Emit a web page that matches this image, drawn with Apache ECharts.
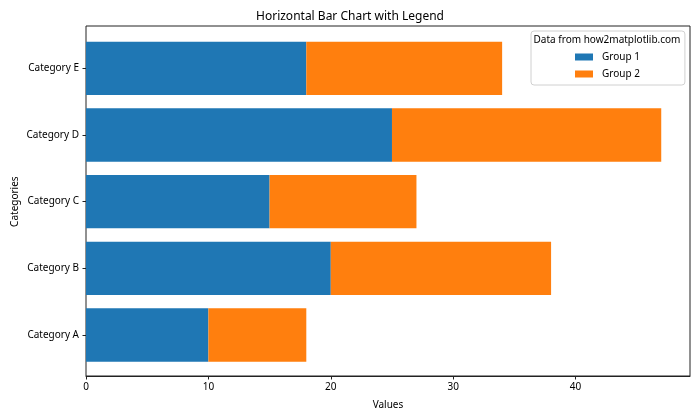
<!DOCTYPE html>
<html><head><meta charset="utf-8">
<script src="https://cdn.jsdelivr.net/npm/echarts@6/dist/echarts.min.js"></script>
<style>html,body{margin:0;padding:0;background:#fff}#c{width:700px;height:420px}</style>
</head><body><div id="c"></div>
<script>
const categories = ['Category A', 'Category B', 'Category C', 'Category D', 'Category E'];
const group1 = [10, 20, 15, 25, 18];
const group2 = [8, 18, 12, 22, 16];
const xTicks = [0, 10, 20, 30, 40];
const seriesNames = ['Group 1', 'Group 2'];
const legendTitle = 'Data from how2matplotlib.com';

const FONT = 'Noto Sans';
const chart = echarts.init(document.getElementById('c'), null, {renderer: 'canvas'});
const xMax = 47 * 1.05;
const plotTop = 26, plotBottom = 44;
const padTop = 9, padBottom = 7.7;

chart.setOption({
  animation: false,
  textStyle: {fontFamily: FONT},
  title: {
    text: 'Horizontal Bar Chart with Legend', left: 'center', top: 6,
    textStyle: {fontFamily: FONT, fontSize: 12, fontWeight: 'normal', color: '#000'}
  },
  grid: [
    {left: 86, right: 10, top: plotTop, bottom: plotBottom, show: true, borderColor: '#222', borderWidth: 1,
     backgroundColor: 'transparent', outerBoundsMode: 'none', containLabel: false},
    {left: 86, right: 10, top: plotTop + padTop, bottom: plotBottom + padBottom,
     outerBoundsMode: 'none', containLabel: false}
  ],
  xAxis: [{
    gridIndex: 1, type: 'value', min: 0, max: xMax, interval: 10, offset: padBottom,
    name: 'Values', nameLocation: 'middle', nameGap: 24, nameMoveOverlap: false,
    nameTextStyle: {fontFamily: FONT, fontSize: 10, color: '#000'},
    axisLine: {show: true, lineStyle: {color: '#222', width: 1}},
    axisTick: {show: true, length: 3.5, lineStyle: {color: '#222'}},
    axisLabel: {fontFamily: FONT, fontSize: 10, color: '#000', margin: 6,
      showMaxLabel: false,
      formatter: v => (xTicks.indexOf(v) >= 0 ? String(v) : '')},
    splitLine: {show: false}
  }],
  yAxis: [{
    gridIndex: 1, type: 'category', data: categories,
    name: 'Categories', nameLocation: 'middle', nameGap: 66, nameRotate: 90, nameMoveOverlap: false,
    nameTextStyle: {fontFamily: FONT, fontSize: 10, color: '#000'},
    axisLine: {show: false},
    axisTick: {show: true, alignWithLabel: true, length: 3.5, lineStyle: {color: '#222'}},
    axisLabel: {fontFamily: FONT, fontSize: 10, color: '#000', margin: 7},
    splitLine: {show: false}
  }],
  legend: {
    orient: 'vertical', left: 531, top: 31,
    data: seriesNames,
    padding: [20, 45, 5, 44],
    itemWidth: 18, itemHeight: 7, itemGap: 5,
    borderColor: '#d0d0d0', borderWidth: 1, borderRadius: 3,
    backgroundColor: 'rgba(255,255,255,0.8)',
    icon: 'rect',
    textStyle: {fontFamily: FONT, fontSize: 10, color: '#000', lineHeight: 12, padding: [0, 0, 0, 4]}
  },
  graphic: [{
    type: 'text', x: 607, y: 40, z: 100,
    style: {text: legendTitle, textAlign: 'center', textVerticalAlign: 'middle',
      font: '10px "Noto Sans"', fill: '#000'}
  }],
  series: [
    {name: seriesNames[0], type: 'bar', stack: 'total', xAxisIndex: 0, yAxisIndex: 0,
     data: group1, barCategoryGap: '20%', itemStyle: {color: '#1f77b4'}},
    {name: seriesNames[1], type: 'bar', stack: 'total', xAxisIndex: 0, yAxisIndex: 0,
     data: group2, barCategoryGap: '20%', itemStyle: {color: '#ff7f0e'}}
  ]
});
</script></body></html>
